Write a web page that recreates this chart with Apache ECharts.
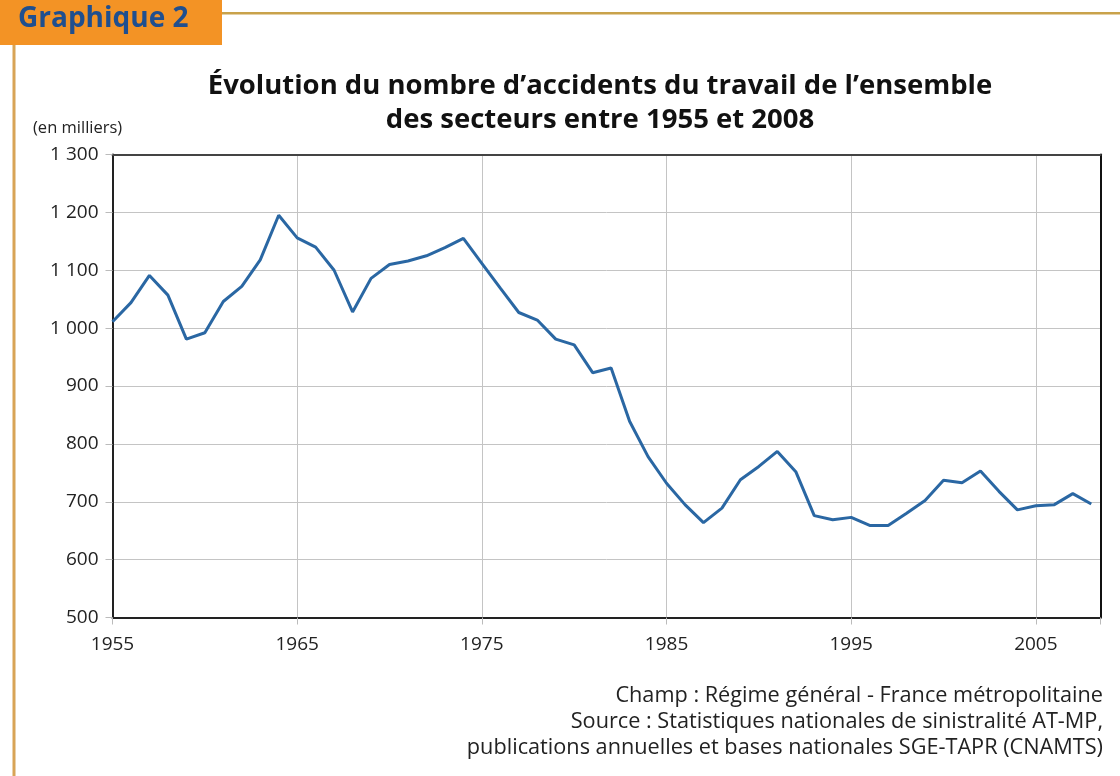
<!DOCTYPE html>
<html>
<head>
<meta charset="utf-8">
<script src="https://cdn.jsdelivr.net/npm/echarts@6/dist/echarts.min.js"></script>
<style>
html,body{margin:0;padding:0;background:#fff;}
#chart{width:1120px;height:776px;}
</style>
</head>
<body>
<div id="chart"></div>
<script>
const years = [];
for (let y = 1955; y <= 2008; y++) years.push(y);
const accidents = [
  1011, 1044, 1091, 1057, 981, 992, 1046, 1072, 1118, 1195,
  1156, 1140, 1100, 1028, 1086, 1110, 1116, 1125, 1139, 1155,
  1112, 1069, 1027, 1014, 981, 971, 923, 931, 839, 778,
  732, 695, 664, 689, 738, 761, 787, 752, 676, 669,
  673, 659, 659, 680, 702, 737, 733, 753, 718, 686,
  693, 695, 714, 696
];
const titleText = "Évolution du nombre d’accidents du travail de l’ensemble\ndes secteurs entre 1955 et 2008";
const headerText = "Graphique 2";
const unitText = "(en milliers)";
const footerLines = [
  "Champ : Régime général - France métropolitaine",
  "Source : Statistiques nationales de sinistralité AT-MP,",
  "publications annuelles et bases nationales SGE-TAPR (CNAMTS)"
];

const fmtThousands = v => {
  const s = String(Math.round(v));
  return s.length > 3 ? s.slice(0, s.length - 3) + ' ' + s.slice(-3) : s;
};

const chart = echarts.init(document.getElementById('chart'), null, {renderer: 'canvas'});
const font = '"Open Sans", "Noto Sans", sans-serif';

const footerGraphics = footerLines.map((t, i) => ({
  type: 'text', right: 17, top: 685 + i * 26,
  style: {text: t, fontFamily: font, fontSize: 21.7, fill: '#222'}
}));

chart.setOption({
  backgroundColor: '#ffffff',
  animation: false,
  title: {
    text: titleText,
    left: 595,
    top: 64,
    textAlign: 'center',
    textStyle: {fontFamily: font, fontWeight: 'bold', fontSize: 27.5, lineHeight: 34, color: '#111'}
  },
  grid: {left: 112.5, right: 19.5, top: 154.5, bottom: 158.5},
  xAxis: [{
    type: 'value',
    min: 1955, max: 2008.5, interval: 10,
    axisLine: {show: true, lineStyle: {color: '#222', width: 2}},
    axisTick: {show: true, length: 7, lineStyle: {color: '#bbb'}},
    splitLine: {show: true, lineStyle: {color: '#c4c4c4', width: 1}},
    axisLabel: {
      fontFamily: font, fontSize: 19, color: '#222', margin: 18,
      formatter: v => (v % 10 === 5 && Number.isInteger(v)) ? String(v) : ''
    }
  }, {
    type: 'value', position: 'top',
    min: 1955, max: 2008.5,
    axisLine: {show: true, lineStyle: {color: '#444', width: 2}},
    axisTick: {show: false}, axisLabel: {show: false}, splitLine: {show: false}
  }],
  yAxis: [{
    type: 'value',
    min: 500, max: 1300, interval: 100,
    axisLine: {show: true, lineStyle: {color: '#222', width: 2}},
    axisTick: {show: true, length: 7, lineStyle: {color: '#bbb'}},
    splitLine: {show: true, lineStyle: {color: '#c4c4c4', width: 1}},
    axisLabel: {fontFamily: font, fontSize: 19, color: '#222', margin: 14, formatter: fmtThousands}
  }, {
    type: 'value', position: 'right',
    min: 500, max: 1300,
    axisLine: {show: true, lineStyle: {color: '#111', width: 2}},
    axisTick: {show: false}, axisLabel: {show: false}, splitLine: {show: false}
  }],
  series: [{
    type: 'line',
    data: years.map((y, i) => [y, accidents[i]]),
    symbol: 'none',
    lineStyle: {color: '#2a67a3', width: 3},
    z: 5
  }],
  graphic: [
    {type: 'rect', left: 0, top: 0, shape: {width: 222, height: 45}, style: {fill: '#f39325'}},
    {type: 'text', left: 18, top: 5, style: {text: headerText, fontFamily: font, fontWeight: 'bold', fontSize: 28, fill: '#1f4f8f'}},
    {type: 'rect', left: 222, top: 12, shape: {width: 898, height: 2.5}, style: {fill: '#c9a24a'}},
    {type: 'rect', left: 12.5, top: 45, shape: {width: 3, height: 731}, style: {fill: '#d8a456'}},
    {type: 'text', left: 33, top: 120, style: {text: unitText, fontFamily: font, fontSize: 16.5, fill: '#222'}}
  ].concat(footerGraphics)
});
</script>
</body>
</html>
